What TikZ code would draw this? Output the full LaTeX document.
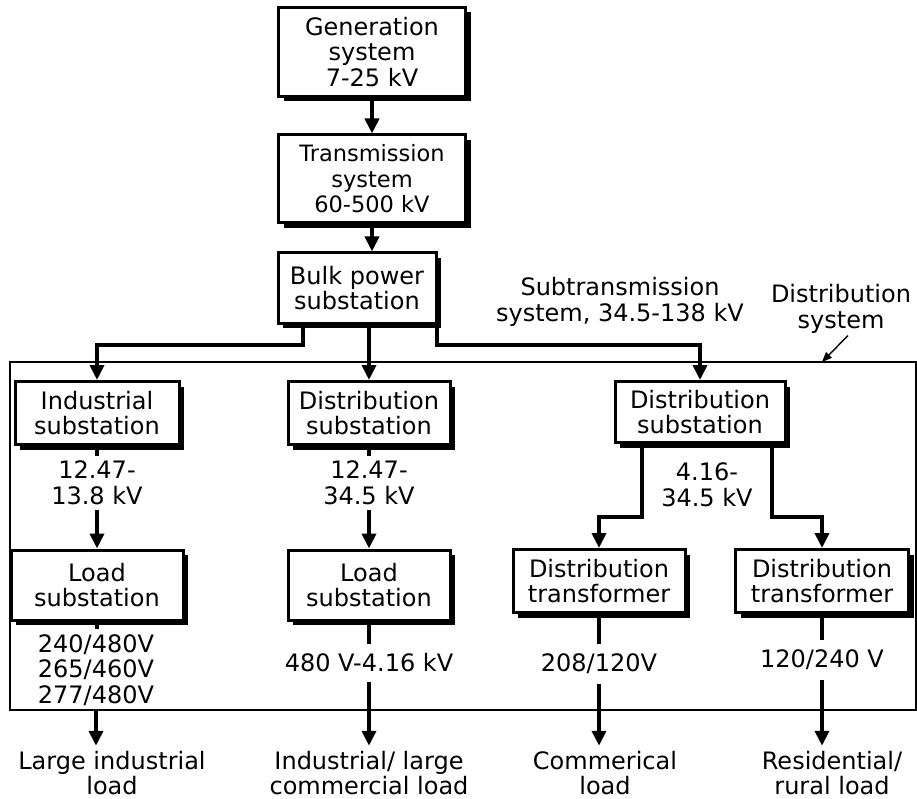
\documentclass[tikz,border=0pt]{standalone}
\usepackage{fontspec}
\setmainfont{DejaVu Sans}
\usetikzlibrary{arrows.meta,positioning,shadows}

\begin{document}
\begin{tikzpicture}[
  x=1pt, y=-1pt,
  font=\fontsize{24}{25.5}\selectfont,
  >={Triangle[length=15pt,width=14pt]},
  box/.style={draw, line width=3pt, fill=white, align=center, inner sep=1pt,
    drop shadow={shadow xshift=5pt, shadow yshift=-5pt, fill=black, opacity=1}},
  lbl/.style={align=center, inner sep=5pt},
  volt/.style={lbl, inner ysep=10pt},
  wire/.style={line width=4pt},
  feed/.style={wire, ->},
]
\useasboundingbox (0,0) rectangle (917,799);
% Distribution system frame
\draw[line width=1.4pt] (10,362) rectangle (916,710);
% Generation and transmission
\node[box, minimum width=187pt, minimum height=89pt] (gen) at (372,52) {Generation\\system\\7-25 kV};
\node[box, minimum width=187pt, minimum height=88pt, font=\fontsize{22.5}{25.5}\selectfont] (trans) at (372,179) {Transmission\\system\\60-500 kV};
\node[box, minimum width=158pt, minimum height=70pt] (bulk) at (357,288) {Bulk power\\substation};
\draw[feed] (gen.south) -- (trans.north);
\draw[feed] (trans.south) -- (trans.south |- bulk.north);
\node[lbl] (subtr) at (620,302) {Subtransmission\\system, 34.5-138 kV};
\node[lbl] (dist) at (841,309) {Distribution\\system};
\coordinate (hit) at (822,362);
\draw[line width=1.4pt, -{Triangle[length=10pt,width=8pt]}] ([xshift=7pt,yshift=3pt]dist.south) -- (hit);
% Substations
\node[box, minimum width=164pt, minimum height=63pt] (ind) at (97,413) {Industrial\\substation};
\node[box, minimum width=162pt, minimum height=63pt] (dsub1) at (369,413) {Distribution\\substation};
\node[box, minimum width=170pt, minimum height=61pt] (dsub2) at (700,412) {Distribution\\substation};
\draw[feed] ([xshift=-54pt]bulk.south) -- ++(0,20) -| (ind.north);
\draw[feed] (bulk.south -| dsub1.north) -- (dsub1.north);
\draw[feed] ([xshift=80pt]bulk.south) -- ++(0,20) -| (dsub2.north);
% Primary voltages
\node[lbl] (v1) at (97,483) {12.47-\\13.8 kV};
\node[lbl] (v2) at (369,483) {12.47-\\34.5 kV};
\node[lbl] (v3) at (707,485) {4.16-\\34.5 kV};
% Load substations and transformers
\node[box, minimum width=172pt, minimum height=70pt] (load1) at (97,585) {Load\\substation};
\node[box, minimum width=162pt, minimum height=70pt] (load2) at (369,585) {Load\\substation};
\node[box, minimum width=172pt, minimum height=63pt] (tr1) at (599,581) {Distribution\\transformer};
\node[box, minimum width=173pt, minimum height=63pt] (tr2) at (822,581) {Distribution\\transformer};
\draw[wire] (ind.south) -- (v1.north);
\draw[feed] (v1.south) -- (load1.north);
\draw[wire] (dsub1.south) -- (v2.north);
\draw[feed] (v2.south) -- (load2.north);
\draw[feed] ([xshift=-58pt]dsub2.south) -- ++(0,73) -| (tr1.north);
\draw[feed] ([xshift=72pt]dsub2.south) -- ++(0,73) -| (tr2.north);
% Secondary voltages
\node[lbl] (lv1) at (96,670) {240/480V\\265/460V\\277/480V};
\node[volt] (lv2) at (369,663) {480 V-4.16 kV};
\node[volt] (lv3) at (599,664) {208/120V};
\node[volt] (lv4) at (822,660) {120/240 V};
\draw[wire] (load1.south) -- (load1.south |- lv1.north);
\draw[wire] (load2.south) -- (lv2.north);
\draw[wire] (tr1.south) -- (lv3.north);
\draw[wire] (tr2.south) -- (lv4.north);
% Loads
\node[lbl] (lg) at (112,773) {Large industrial\\load};
\node[lbl] (ic) at (369,773) {Industrial/ large\\commercial load};
\node[lbl] (com) at (605,773) {Commerical\\load};
\node[lbl] (res) at (832,773) {Residential/\\rural load};
\draw[feed] (lv1.south) -- (lv1.south |- lg.north);
\draw[feed] (lv2.south) -- (ic.north);
\draw[feed] (lv3.south) -- (lv3.south |- com.north);
\draw[feed] (lv4.south) -- (lv4.south |- res.north);
\end{tikzpicture}
\end{document}
